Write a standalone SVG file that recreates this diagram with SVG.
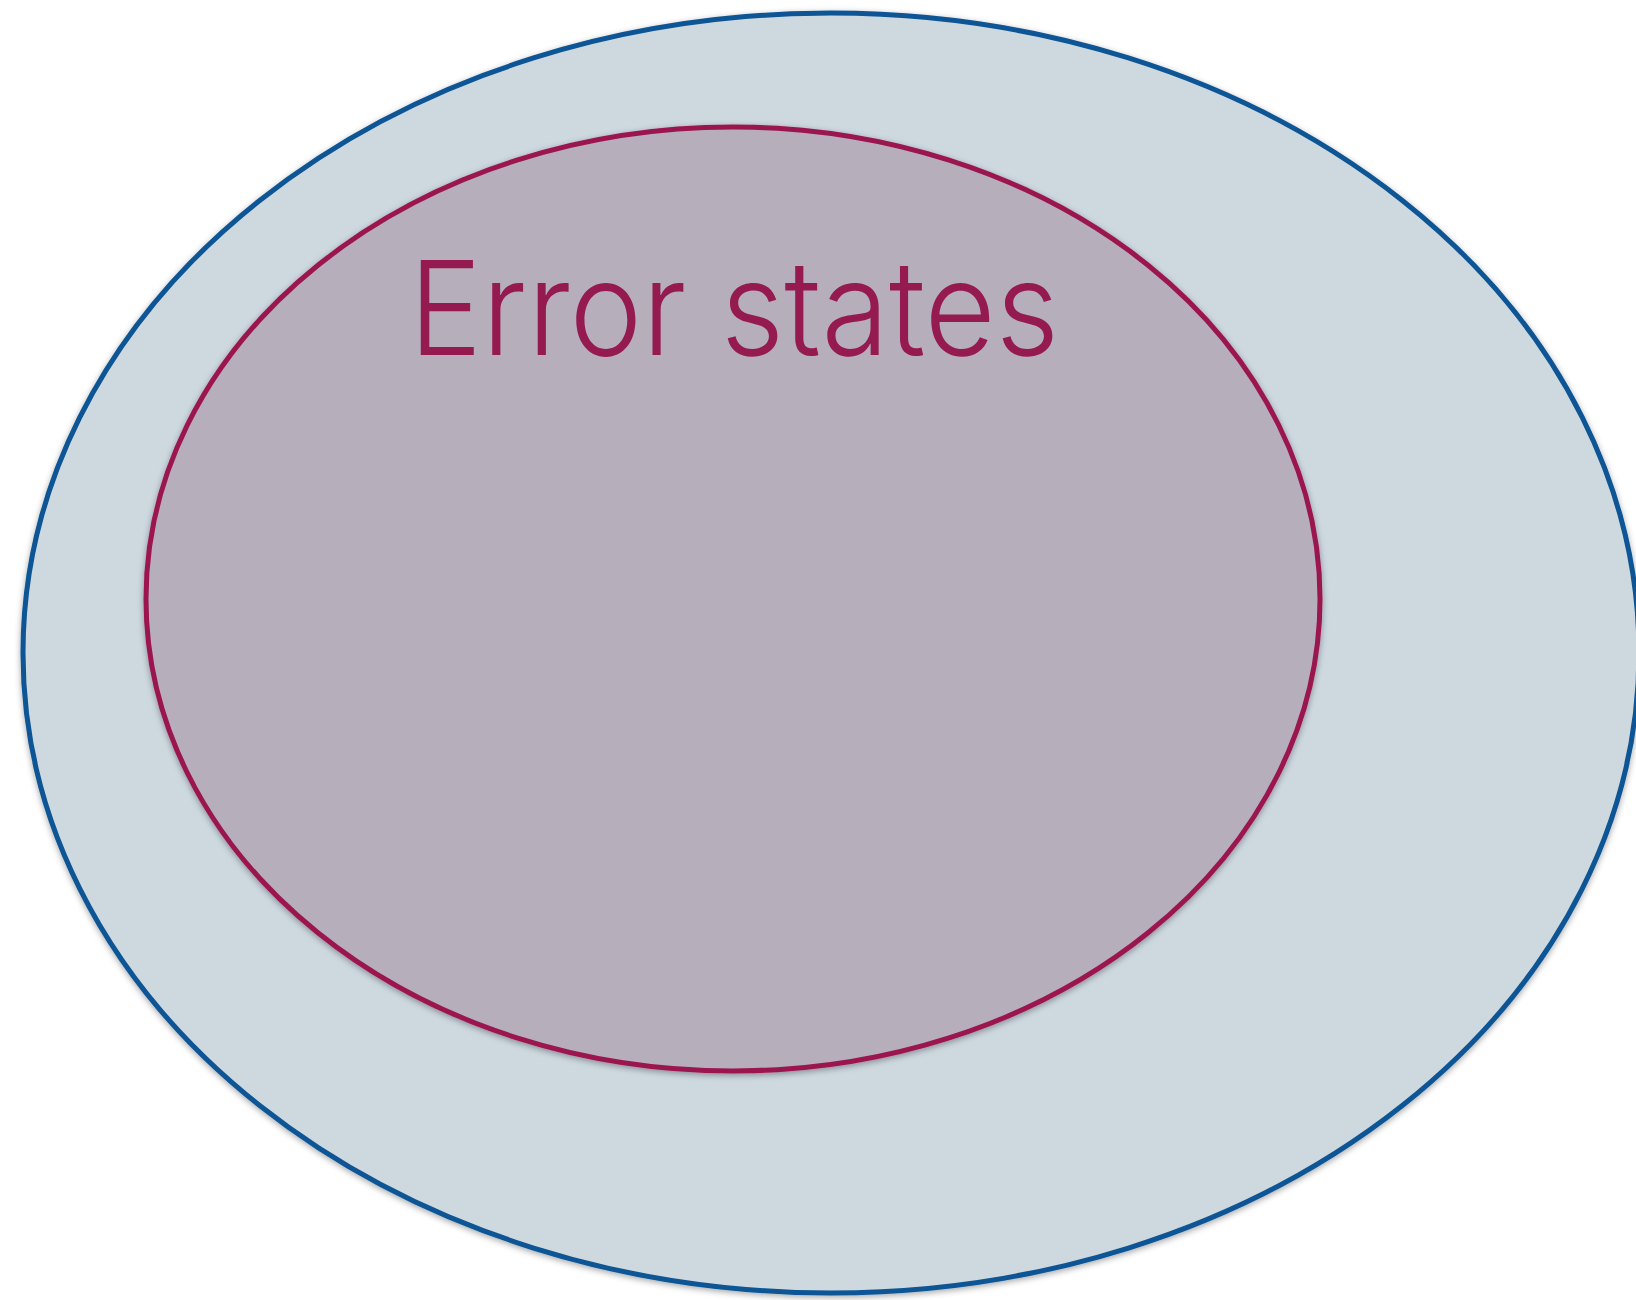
<svg xmlns="http://www.w3.org/2000/svg" width="1636" height="1300" viewBox="0 0 1636 1300">
<style>
.outer{fill:#cdd8df;stroke:#0a5494;stroke-width:5}
.inner{fill:#b6afbb;stroke:#9b1650;stroke-width:5}
.label{font-family:Inter,"Liberation Sans",sans-serif;font-weight:300;font-size:131px;fill:#951a50}
</style>
<defs>
<filter id="sh" x="-5%" y="-5%" width="110%" height="110%">
<feDropShadow dx="0" dy="2" stdDeviation="3" flood-color="#000" flood-opacity="0.35"/>
</filter>
</defs>
<rect width="1636" height="1300" fill="#ffffff"/>
<g id="all-states">
<ellipse class="outer" cx="831" cy="653" rx="808" ry="640" filter="url(#sh)"/>
</g>
<g id="error-states">
<ellipse class="inner" cx="733" cy="599" rx="587" ry="472" filter="url(#sh)"/>
<text class="label" x="409" y="355" textLength="650" lengthAdjust="spacingAndGlyphs">Error states</text>
</g>
<g id="connectors"/>
</svg>
